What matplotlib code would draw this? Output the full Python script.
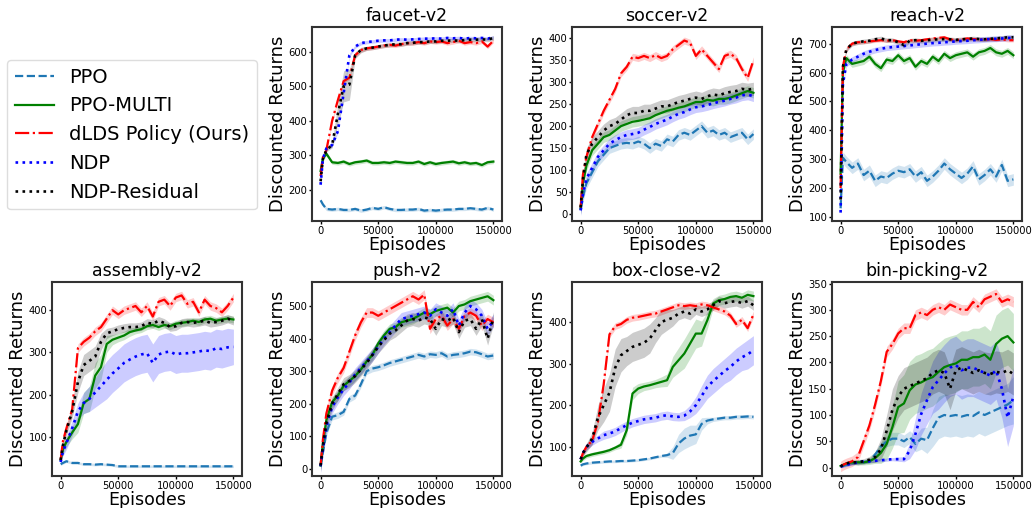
import numpy as np
import matplotlib
matplotlib.use("Agg")
import matplotlib.pyplot as plt

# episodes grid (shared by all tasks)
episodes = [0, 2000, 5000, 10000, 15000, 20000, 25000, 30000, 35000, 40000, 45000,
            50000, 55000, 60000, 65000, 70000, 75000, 80000, 85000, 90000, 95000,
            100000, 105000, 110000, 115000, 120000, 125000, 130000, 135000, 140000,
            145000, 150000]

methods = ["PPO", "PPO-MULTI", "dLDS Policy (Ours)", "NDP", "NDP-Residual"]

# ---- faucet-v2
faucet_ppo = [170, 158, 145, 143, 145, 142, 142, 145, 140, 143, 148, 145, 150, 145, 142, 142, 143, 143, 145, 140, 142, 140, 142, 143, 143, 145, 145, 147, 145, 143, 148, 143]
faucet_multi = [255, 290, 305, 280, 278, 282, 275, 280, 282, 285, 278, 278, 280, 278, 282, 280, 278, 278, 282, 275, 280, 275, 278, 280, 282, 277, 280, 276, 278, 272, 280, 282]
faucet_dlds = [240, 295, 315, 400, 460, 515, 525, 590, 605, 610, 612, 615, 618, 620, 618, 622, 625, 625, 628, 625, 630, 628, 630, 625, 628, 632, 625, 628, 625, 630, 615, 632]
faucet_ndp = [215, 290, 320, 330, 370, 480, 590, 615, 625, 628, 630, 632, 633, 633, 635, 636, 635, 636, 637, 638, 638, 639, 638, 640, 639, 640, 638, 640, 639, 640, 638, 642]
faucet_res = [225, 290, 315, 330, 420, 500, 505, 590, 605, 610, 612, 615, 618, 620, 622, 622, 625, 626, 628, 628, 630, 630, 632, 632, 633, 632, 634, 635, 635, 636, 635, 640]
faucet_sd = [5, 6, 6, 5, [5, 5, 5, 8, 30, 45, 45, 10, 8, 6, 6, 6, 6, 6, 6, 6, 6, 6, 6, 6, 6, 6, 6, 6, 6, 6, 6, 6, 6, 6, 6, 6]]

# ---- soccer-v2
soccer_ppo = [10, 40, 70, 95, 120, 135, 150, 155, 160, 162, 160, 165, 160, 150, 160, 155, 170, 165, 180, 185, 180, 190, 200, 185, 190, 180, 185, 175, 180, 185, 170, 182]
soccer_multi = [12, 70, 110, 145, 160, 175, 180, 190, 200, 205, 210, 212, 215, 218, 225, 230, 235, 238, 242, 245, 250, 255, 255, 260, 258, 262, 262, 265, 270, 275, 280, 276]
soccer_dlds = [15, 90, 130, 175, 205, 235, 260, 285, 320, 335, 358, 355, 360, 355, 362, 355, 360, 375, 385, 395, 390, 360, 375, 360, 345, 330, 360, 365, 355, 330, 310, 350]
soccer_ndp = [8, 45, 80, 105, 130, 145, 160, 168, 175, 180, 182, 185, 192, 198, 205, 210, 215, 222, 228, 232, 238, 243, 245, 248, 252, 255, 258, 262, 265, 270, 272, 268]
soccer_res = [15, 80, 135, 160, 175, 190, 200, 205, 215, 225, 230, 230, 235, 235, 240, 245, 245, 250, 255, 258, 262, 265, 262, 268, 272, 270, 275, 278, 280, 285, 283, 285]
soccer_sd = [12, 12, 8, 12, 15]

# ---- reach-v2
reach_ppo = [130, 305, 290, 270, 285, 245, 260, 225, 240, 235, 250, 260, 255, 265, 240, 255, 225, 240, 260, 285, 265, 250, 235, 250, 275, 230, 245, 265, 240, 280, 225, 230]
reach_multi = [250, 600, 650, 630, 635, 640, 655, 630, 615, 645, 640, 660, 640, 650, 620, 640, 630, 655, 640, 665, 650, 660, 665, 670, 655, 670, 675, 685, 670, 665, 675, 660]
reach_dlds = [200, 620, 680, 700, 705, 705, 708, 710, 712, 710, 712, 708, 705, 712, 710, 712, 715, 718, 720, 722, 715, 712, 715, 718, 716, 715, 714, 716, 713, 715, 712, 712]
reach_ndp = [115, 560, 630, 645, 655, 665, 672, 678, 682, 686, 688, 690, 692, 694, 696, 698, 700, 702, 703, 705, 706, 708, 709, 710, 712, 713, 715, 716, 717, 718, 720, 720]
reach_res = [160, 620, 680, 700, 705, 708, 710, 715, 718, 712, 712, 705, 695, 710, 712, 710, 712, 714, 715, 716, 715, 713, 715, 716, 718, 716, 715, 717, 718, 720, 722, 722]
reach_sd = [20, 12, 6, 10, 8]

# ---- assembly-v2
assembly_ppo = [35, 38, 42, 38, 38, 35, 35, 34, 35, 34, 33, 30, 30, 30, 30, 30, 30, 30, 30, 30, 30, 30, 30, 30, 30, 30, 30, 30, 30, 30, 30, 30]
assembly_multi = [45, 70, 88, 110, 130, 180, 190, 245, 265, 320, 330, 335, 340, 348, 352, 355, 362, 365, 360, 365, 362, 368, 370, 372, 375, 372, 378, 380, 375, 378, 380, 378]
assembly_dlds = [45, 90, 120, 165, 310, 325, 335, 350, 360, 380, 400, 390, 400, 405, 410, 395, 410, 385, 420, 425, 410, 430, 435, 415, 420, 395, 425, 410, 405, 395, 410, 430]
assembly_ndp = [40, 65, 85, 120, 160, 180, 190, 205, 220, 235, 250, 262, 275, 283, 290, 295, 298, 275, 295, 300, 302, 295, 298, 298, 300, 302, 305, 303, 310, 308, 312, 313]
assembly_res = [45, 80, 115, 160, 230, 270, 280, 290, 325, 345, 350, 355, 358, 360, 360, 362, 370, 368, 375, 370, 360, 362, 370, 372, 370, 372, 375, 370, 372, 375, 380, 375]
assembly_sd = [3,
               [5, 10, 12, 15, 20, 25, 30, 30, 30, 20, 12, 10, 10, 10, 8, 8, 8, 8, 8, 8, 8, 8, 8, 8, 8, 8, 8, 8, 8, 8, 8, 8],
               10,
               [5, 10, 15, 18, 20, 25, 30, 35, 40, 45, 45, 45, 45, 45, 45, 45, 45, 45, 45, 45, 45, 45, 45, 45, 45, 45, 45, 45, 45, 45, 45, 42],
               [5, 10, 12, 15, 25, 25, 25, 25, 20, 12, 10, 10, 10, 10, 10, 10, 10, 10, 10, 10, 10, 10, 10, 10, 10, 10, 10, 10, 10, 10, 10, 10]]

# ---- push-v2
push_ppo = [8, 50, 110, 160, 165, 175, 215, 225, 260, 300, 308, 312, 318, 325, 330, 335, 340, 345, 350, 345, 352, 350, 355, 345, 350, 352, 355, 360, 358, 352, 345, 348]
push_multi = [10, 80, 150, 205, 225, 255, 270, 285, 305, 330, 350, 385, 410, 430, 435, 450, 455, 460, 470, 480, 475, 485, 490, 495, 480, 500, 505, 515, 520, 525, 530, 518]
push_dlds = [10, 90, 170, 240, 280, 310, 360, 410, 450, 480, 480, 470, 480, 490, 500, 510, 520, 530, 520, 535, 430, 460, 470, 440, 460, 430, 470, 480, 470, 440, 460, 450]
push_ndp = [8, 60, 130, 190, 220, 245, 265, 290, 310, 330, 350, 375, 400, 420, 440, 460, 465, 470, 475, 480, 470, 490, 480, 470, 490, 440, 480, 500, 490, 470, 430, 455]
push_res = [10, 70, 140, 200, 230, 260, 270, 285, 305, 325, 350, 375, 395, 415, 425, 440, 455, 460, 455, 465, 460, 430, 460, 455, 465, 420, 455, 460, 430, 460, 400, 462]
push_sd = [10, 15, 15, 20, 20]

# ---- box-close-v2
box_ppo = [55, 58, 60, 62, 63, 64, 65, 65, 66, 66, 67, 68, 70, 72, 75, 78, 80, 85, 108, 120, 127, 130, 155, 163, 166, 168, 170, 170, 172, 172, 173, 172]
box_multi = [65, 72, 78, 82, 85, 88, 92, 98, 105, 140, 228, 240, 245, 248, 252, 256, 260, 292, 308, 324, 348, 372, 372, 404, 444, 452, 455, 460, 462, 458, 465, 462]
box_dlds = [70, 85, 100, 115, 160, 250, 370, 390, 395, 405, 410, 412, 415, 418, 420, 425, 430, 435, 440, 438, 440, 438, 442, 440, 435, 430, 425, 415, 395, 405, 385, 418]
box_ndp = [70, 85, 100, 112, 120, 128, 132, 137, 145, 152, 158, 162, 166, 168, 170, 174, 176, 173, 172, 175, 185, 200, 222, 244, 258, 270, 282, 292, 305, 315, 322, 332]
box_res = [70, 85, 98, 120, 170, 200, 230, 290, 320, 330, 340, 345, 350, 360, 380, 400, 405, 410, 420, 425, 420, 430, 425, 430, 440, 450, 445, 448, 450, 445, 450, 440]
box_sd = [[3, 3, 3, 3, 3, 3, 3, 3, 3, 3, 3, 3, 3, 3, 3, 3, 5, 15, 22, 25, 25, 22, 15, 8, 5, 5, 5, 5, 5, 5, 5, 5],
          [4, 5, 5, 5, 5, 5, 5, 5, 8, 12, 15, 12, 10, 10, 10, 12, 15, 25, 30, 35, 35, 35, 30, 20, 12, 12, 12, 12, 12, 12, 12, 12],
          8,
          [4, 5, 8, 8, 8, 10, 10, 10, 10, 10, 10, 10, 10, 10, 10, 10, 10, 10, 10, 12, 15, 20, 25, 28, 30, 30, 30, 32, 32, 32, 35, 35],
          [4, 8, 10, 15, 30, 40, 45, 45, 40, 35, 35, 35, 35, 35, 30, 30, 25, 20, 15, 15, 15, 12, 12, 12, 12, 12, 12, 12, 12, 12, 12, 12]]

# ---- bin-picking-v2
bin_ppo = [2, 3, 5, 8, 10, 10, 12, 25, 40, 50, 55, 55, 50, 58, 45, 55, 52, 75, 95, 100, 98, 100, 97, 100, 98, 105, 100, 105, 110, 115, 120, 128]
bin_multi = [3, 5, 8, 10, 10, 10, 12, 18, 28, 45, 77, 115, 122, 147, 158, 162, 168, 172, 182, 191, 195, 198, 205, 205, 210, 210, 215, 205, 235, 245, 250, 238]
bin_dlds = [2, 5, 8, 12, 20, 50, 80, 120, 165, 220, 235, 255, 265, 265, 290, 295, 290, 300, 305, 300, 310, 305, 300, 300, 315, 305, 320, 325, 330, 315, 320, 315]
bin_ndp = [2, 3, 5, 8, 10, 12, 12, 13, 14, 15, 16, 16, 16, 32, 64, 102, 128, 153, 166, 179, 190, 195, 185, 190, 190, 185, 180, 175, 185, 150, 95, 135]
bin_res = [2, 5, 8, 10, 10, 12, 15, 20, 35, 70, 110, 135, 150, 155, 160, 165, 170, 180, 185, 180, 150, 185, 190, 185, 180, 185, 180, 178, 182, 180, 185, 178]
bin_sd = [[1, 2, 3, 3, 3, 3, 3, 5, 8, 10, 12, 12, 12, 12, 15, 20, 25, 35, 40, 40, 40, 40, 40, 40, 40, 40, 40, 40, 40, 40, 40, 45],
          [1, 2, 3, 4, 5, 5, 6, 10, 20, 30, 40, 50, 55, 55, 55, 55, 55, 55, 55, 55, 55, 55, 55, 55, 55, 55, 55, 55, 55, 55, 55, 55],
          10,
          [1, 2, 3, 3, 3, 3, 3, 3, 3, 3, 3, 4, 5, 15, 30, 40, 45, 50, 55, 55, 55, 55, 55, 55, 55, 55, 55, 55, 55, 55, 55, 55],
          [1, 2, 3, 4, 5, 5, 6, 10, 20, 30, 40, 40, 40, 40, 40, 40, 40, 40, 40, 40, 40, 40, 40, 40, 40, 40, 40, 40, 40, 40, 40, 40]]

tasks = [
    ("faucet-v2", [faucet_ppo, faucet_multi, faucet_dlds, faucet_ndp, faucet_res], faucet_sd, (110, 672)),
    ("soccer-v2", [soccer_ppo, soccer_multi, soccer_dlds, soccer_ndp, soccer_res], soccer_sd, (-16, 426)),
    ("reach-v2", [reach_ppo, reach_multi, reach_dlds, reach_ndp, reach_res], reach_sd, (86, 758)),
    ("assembly-v2", [assembly_ppo, assembly_multi, assembly_dlds, assembly_ndp, assembly_res], assembly_sd, (7, 467)),
    ("push-v2", [push_ppo, push_multi, push_dlds, push_ndp, push_res], push_sd, (-22, 574)),
    ("box-close-v2", [box_ppo, box_multi, box_dlds, box_ndp, box_res], box_sd, (30, 496)),
    ("bin-picking-v2", [bin_ppo, bin_multi, bin_dlds, bin_ndp, bin_res], bin_sd, (-16, 353)),
]

colors = ["#1f77b4", "green", "red", "blue", "black"]
styles = ["--", "-", "-.", ":", ":"]
widths = [1.6, 1.6, 1.6, 1.9, 1.9]

# axes positions in figure fractions (left, bottom)
w, h = 0.1838, 0.382
positions = [(0.3017, 0.565), (0.5532, 0.565), (0.8046, 0.565),
             (0.0503, 0.063), (0.3017, 0.063), (0.5532, 0.063), (0.8046, 0.063)]

fig = plt.figure(figsize=(10.34, 5.08), dpi=100)
x = np.array(episodes)
handles = []
for (title, series, sds, ylim), (l, b) in zip(tasks, positions):
    ax = fig.add_axes([l, b, w, h])
    for i, y in enumerate(series):
        y = np.array(y, dtype=float)
        sd = np.broadcast_to(np.array(sds[i], dtype=float), y.shape)
        ax.fill_between(x, y - sd, y + sd, color=colors[i], alpha=0.2, lw=0)
        ln, = ax.plot(x, y, color=colors[i], ls=styles[i], lw=widths[i], label=methods[i])
        if title == "faucet-v2":
            handles.append(ln)
    ax.set_xlim(-7500, 157500)
    ax.set_ylim(*ylim)
    ax.set_title(title, fontsize=12.5, pad=4)
    ax.set_xlabel("Episodes", fontsize=12.5, labelpad=0)
    ax.set_ylabel("Discounted Returns", fontsize=13, labelpad=1)
    ax.set_xticks([0, 50000, 100000, 150000])
    ax.tick_params(labelsize=7.2, length=2.5, width=1, pad=0.8)
    for s in ax.spines.values():
        s.set_linewidth(1.5)
        s.set_color("#333333")

fig.legend(handles, methods, loc="upper left", bbox_to_anchor=(0.0068, 0.8819),
           borderaxespad=0, fontsize=14, labelspacing=0.5, framealpha=1,
           edgecolor="#dddddd")

fig.savefig("out.png", dpi=100)
